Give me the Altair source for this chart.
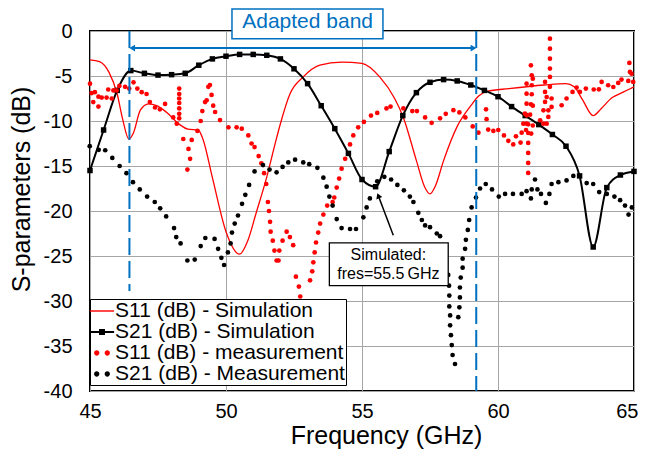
import altair as alt
import pandas as pd

FONT = "Liberation Sans"
BLUE = "#0070C0"

# ---------------- data ----------------
s21_sim_f = [45.0, 45.5, 46.0, 46.5, 47.0, 47.5, 48.0, 48.5, 49.0, 49.5, 50.0, 50.5, 51.0, 51.5,
             52.0, 52.5, 53.0, 53.5, 54.0, 54.5, 55.0, 55.5, 56.0, 56.5, 57.0, 57.5, 58.0, 58.5,
             59.0, 59.5, 60.0, 60.5, 61.0, 61.5, 62.0, 62.5, 63.0, 63.5, 64.0, 64.5, 65.0]
s21_sim_db = [-15.5, -11.0, -6.6, -4.4, -4.7, -4.9, -4.85, -4.7, -3.8, -3.1, -2.8, -2.6, -2.6, -2.7,
              -3.1, -4.2, -5.85, -8.3, -10.85, -13.6, -16.5, -17.3, -13.4, -9.4, -6.85, -5.7, -5.4, -5.55,
              -6.0, -6.6, -7.3, -8.4, -9.4, -10.4, -11.5, -12.8, -16.1, -24.0, -17.4, -16.0, -15.6]

s11_sim_f = [45.0, 45.35, 45.7, 46.0, 46.2, 46.43, 46.6, 46.85, 47.15, 47.45, 47.8, 48.3, 48.6, 48.98,
             49.15, 49.5, 50.0, 50.5, 50.8, 51.1, 51.5, 51.8, 52.0, 52.35, 52.84, 53.45, 54.25, 55.0,
             55.65, 56.2, 56.52, 57.0, 57.3, 57.5, 57.7, 58.0, 58.5, 59.0, 59.3, 59.6, 60.4, 61.7,
             62.5, 62.8, 63.1, 63.5, 63.8, 64.2, 64.6, 65.0]
s11_sim_db = [-3.2, -3.4, -4.6, -7.0, -9.8, -12.0, -11.3, -8.8, -8.1, -8.3, -9.0, -10.4, -10.9, -11.0,
              -12.0, -16.3, -22.3, -24.8, -23.3, -20.3, -16.2, -12.6, -10.3, -7.0, -5.1, -3.8, -3.45, -3.6,
              -5.1, -7.5, -9.6, -14.4, -17.3, -18.1, -17.2, -14.4, -10.6, -8.3, -7.2, -6.7, -6.4, -6.0,
              -5.85, -6.2, -7.6, -9.4, -8.6, -7.4, -6.8, -6.2]

s11_meas_f = [45.0, 45.06, 45.12, 45.18, 45.31, 45.31, 45.43, 45.61, 45.67, 45.8, 45.86, 45.98, 46.08,
              46.29, 46.44, 46.6, 46.74, 46.9, 47.08, 47.2, 47.39, 47.57, 47.76, 48.06, 48.19,
              48.28, 48.28, 48.28, 48.28, 48.28, 48.28, 48.28,
              48.43, 48.58, 48.62, 48.68, 48.74, 48.95, 49.07, 49.13, 49.23, 49.29, 49.35, 49.41, 49.47,
              49.53, 49.6, 49.78, 50.09, 50.39, 50.58, 50.82, 50.94, 51.05, 51.2, 51.3, 51.4, 51.48,
              51.54, 51.58, 51.62, 51.64, 51.72, 51.78, 51.86, 51.93, 51.96, 52.08, 52.23, 52.35, 52.47,
              52.57, 52.68, 52.73, 53.09, 53.17, 53.21, 53.26, 53.31, 53.39, 53.46, 53.58, 53.72, 53.92,
              53.98, 54.07, 54.16, 54.25, 54.38, 54.56, 54.68, 54.86, 55.07, 55.33, 55.56, 55.9, 56.05,
              56.52, 56.85, 57.02, 57.32, 57.56, 57.87, 58.08, 58.36, 58.58, 58.8, 59.07, 59.28, 59.56,
              59.58, 59.64, 59.83, 60.01, 60.22, 60.38, 60.56, 60.66, 60.83, 60.87, 61.03, 61.05,
              61.21, 61.24, 61.05, 61.24, 61.05, 61.24, 61.05, 61.21, 60.99, 61.18, 61.05, 60.93, 61.11,
              61.11, 61.11, 61.11, 61.11, 61.11, 61.28, 61.28, 61.28, 61.22,
              61.55, 61.67, 61.67, 61.73, 61.73, 61.73, 61.79, 61.79, 61.85, 61.85,
              61.91, 61.91, 61.91, 61.91, 61.91, 61.91, 61.97, 61.97,
              62.34, 62.52, 62.74, 62.89, 63.01, 63.23, 63.52, 63.71, 63.81, 64.05, 64.24, 64.42, 64.54,
              64.79, 64.83, 64.85, 64.91, 64.97]
s11_meas_db = [-5.85, -6.9, -7.9, -6.8, -7.3, -8.4, -7.4, -7.4, -6.5, -7.5, -6.6, -6.6, -6.1,
               -6.2, -6.4, -5.7, -6.4, -6.8, -7.0, -7.9, -8.5, -8.7, -8.1, -9.6, -10.3,
               -6.4, -7.0, -7.5, -8.0, -8.6, -9.2, -9.7,
               -12.0, -15.4, -13.1, -14.2, -12.1, -11.1, -10.0, -8.9, -7.9, -7.7, -6.2, -6.0, -7.1,
               -8.3, -9.0, -9.9, -10.7, -10.7, -10.85, -11.6, -12.5, -12.9, -13.9, -14.7, -15.8, -17.0,
               -19.0, -20.0, -21.2, -22.3, -23.3, -24.4, -25.5, -25.5, -24.4, -23.3, -22.3, -22.9, -23.8,
               -27.3, -28.4, -29.5, -27.7, -26.7, -25.7, -24.6, -23.5, -22.4, -21.4, -20.4, -19.4, -19.0,
               -18.5, -17.4, -16.4, -15.3, -14.2, -12.6, -11.6, -10.7, -10.1, -9.4, -9.1, -8.6, -8.4,
               -8.6, -8.9, -8.9, -9.6, -10.2, -9.7, -9.2, -8.8, -9.05, -9.6, -10.6, -11.3, -8.7,
               -9.8, -10.95, -11.1, -11.0, -11.6, -12.2, -12.6, -11.7, -12.4, -11.3, -11.0, -10.3,
               -3.81, -4.92, -5.85, -6.03, -6.96, -7.03, -8.07, -8.14, -9.18, -9.3, -9.37, -10.3, -10.37,
               -11.33, -12.44, -13.55, -14.66, -15.77, -5.3, -8.3, -10.5, -11.4,
               -9.92, -8.81, -10.3, -5.66, -6.77, -7.88, -7.33, -10.3, -8.81, -9.55,
               -0.85, -1.96, -3.07, -4.18, -5.1, -6.2, -8.44, -7.5,
               -8.25, -7.5, -6.77, -6.29, -6.77, -6.4, -6.5, -6.48, -5.66, -6.03, -6.22, -5.77, -5.4,
               -5.55, -3.55, -4.55, -4.74, -5.66]

s21_meas_f = [44.99, 45.32, 45.56, 45.82, 46.09, 46.34, 46.58, 46.83, 47.1, 47.38, 47.58, 47.8, 48.09,
              48.17, 48.33, 48.58, 48.85, 49.07, 49.24, 49.58, 49.71, 49.83, 49.93, 50.07, 50.17, 50.22,
              50.32, 50.44, 50.59, 50.71, 50.85, 51.05, 51.36, 51.6, 51.86, 52.08, 52.29, 52.54, 52.84,
              53.06, 53.36, 53.58, 53.7, 53.8, 53.92, 54.07, 54.25, 54.56, 54.78, 55.05, 55.17, 55.29,
              55.56, 55.82, 56.07, 56.3, 56.54, 56.76, 56.89, 57.07, 57.2, 57.32, 57.5, 57.75, 57.87,
              58.17, 58.2, 58.21, 58.21, 58.24, 58.24, 58.27, 58.3, 58.33, 58.42, 58.54, 58.58, 58.6,
              58.6, 58.63, 58.7, 58.7, 58.79, 58.82, 58.89, 58.94, 59.03, 59.19, 59.34, 59.55, 59.78,
              60.03, 60.26, 60.55, 60.87, 61.05, 61.21, 61.24, 61.36, 61.45, 61.58, 61.76, 61.89, 61.97,
              62.22, 62.52, 62.77, 63.26, 63.5, 63.72, 64.0, 64.28, 64.49, 64.67, 64.8, 64.92]
s21_meas_db = [-12.8, -13.2, -13.25, -14.1, -15.0, -15.8, -16.8, -17.6, -18.4, -19.0, -19.7, -20.6, -21.9,
               -22.9, -23.6, -25.5, -25.4, -23.9, -23.0, -23.1, -24.2, -25.2, -26.0, -24.6, -23.6, -22.4,
               -21.4, -20.5, -19.2, -18.2, -17.1, -15.6, -14.9, -15.4, -15.7, -15.1, -14.6, -14.3, -14.6,
               -14.8, -15.2, -16.3, -17.3, -18.4, -19.4, -20.9, -21.9, -22.0, -22.0, -20.7, -19.6, -18.6,
               -16.7, -16.2, -16.5, -17.1, -17.7, -18.4, -19.0, -20.2, -21.0, -21.6, -21.8, -22.5, -22.8,
               -27.1, -28.3, -29.4, -30.6, -31.6, -32.7, -33.8, -34.9, -36.0, -37.0, -31.8, -30.7, -29.6,
               -28.5, -27.4, -26.3, -25.3, -24.2, -23.2, -22.1, -21.0, -19.6, -18.5, -17.5, -17.0, -17.6,
               -18.4, -18.1, -18.1, -18.1, -17.8, -18.6, -17.6, -16.5, -17.6, -18.1, -19.1, -18.1, -17.0,
               -16.8, -16.6, -16.1, -16.9, -17.0, -17.9, -18.1, -18.4, -18.8, -19.4, -20.4, -19.6]

series_names = ["S11 (dB) - Simulation", "S21 (dB) - Simulation",
                "S11 (dB) - measurement", "S21 (dB) - Measurement"]
series_colors = ["#FF0000", "#000000", "#FF0000", "#000000"]

# annotation anchors (data units)
band_edges_f = [46.45, 59.2]
band_edges_bottom = [-28.9, -40.0]
band_arrow_f = [46.55, 59.1]
band_arrow_db = -1.9
band_box_f = [50.22, 55.77]
band_box_db = [2.45, -0.87]
band_label = "Adapted band"
band_label_pos = (53.0, 1.0)
sim_box_f = [53.8, 58.17]
sim_box_db = [-23.55, -28.3]
sim_text = ["Simulated:", "fres=55.5\u2009GHz"]
sim_text_f = [55.97, 55.97]
sim_text_db = [-24.85, -27.0]
sim_arrow_f = [56.15, 55.6]
sim_arrow_db = [-22.7, -18.3]

# ---------------- chart ----------------
xs = alt.Scale(domain=[45, 65], nice=False, zero=False)
ys = alt.Scale(domain=[-40, 0], nice=False, zero=False)
x_axis = alt.Axis(values=[45, 50, 55, 60, 65], labelPadding=10, titlePadding=2, titleX=296,
                  labelAlign=alt.condition("datum.value == 65", alt.value("right"), alt.value("center")),
                  labelOffset=alt.condition("datum.value == 65", alt.value(4), alt.value(0)))
y_axis = alt.Axis(values=list(range(-40, 1, 5)), labelPadding=18, titlePadding=9, titleY=158,
                  labelExpr="'' + datum.value")
XT = "Frequency (GHz)"
YT = "S-parameters (dB)"


def X(field):
    return alt.X(field, type="quantitative", scale=xs, axis=x_axis, title=XT)


def Y(field):
    return alt.Y(field, type="quantitative", scale=ys, axis=y_axis, title=YT)


df_s21_sim = pd.DataFrame({"f": s21_sim_f, "db": s21_sim_db})
df_s11_sim = pd.DataFrame({"f": s11_sim_f, "db": s11_sim_db})
df_s11_meas = pd.DataFrame({"f": s11_meas_f, "db": s11_meas_db})
df_s21_meas = pd.DataFrame({"f": s21_meas_f, "db": s21_meas_db})

s11_sim = alt.Chart(df_s11_sim).mark_line(color="#FF0000", strokeWidth=1.3, interpolate="monotone").encode(
    x=X("f"), y=Y("db"))
s21_sim_line = alt.Chart(df_s21_sim).mark_line(color="#000000", strokeWidth=2, interpolate="monotone").encode(
    x=X("f"), y=Y("db"))
s21_sim_pts = alt.Chart(df_s21_sim).mark_square(color="#000000", size=30, opacity=1).encode(
    x=X("f"), y=Y("db"))
s11_meas = alt.Chart(df_s11_meas).mark_circle(color="#FF0000", size=22, opacity=1).encode(
    x=X("f"), y=Y("db"))
s21_meas = alt.Chart(df_s21_meas).mark_circle(color="#000000", size=22, opacity=1).encode(
    x=X("f"), y=Y("db"))

df_edges = pd.DataFrame({"f": band_edges_f, "top": [0.0, 0.0], "bottom": band_edges_bottom})
edges = alt.Chart(df_edges).mark_rule(color=BLUE, strokeWidth=2, strokeDash=[17, 6]).encode(
    x=X("f"), y=Y("top"), y2="bottom")

df_barrow = pd.DataFrame({"f": [band_arrow_f[0]], "f2": [band_arrow_f[1]], "db": [band_arrow_db]})
barrow = alt.Chart(df_barrow).mark_rule(color=BLUE, strokeWidth=2).encode(x=X("f"), x2="f2", y=Y("db"))
df_head_l = pd.DataFrame({"f": [band_arrow_f[0]], "db": [band_arrow_db]})
df_head_r = pd.DataFrame({"f": [band_arrow_f[1]], "db": [band_arrow_db]})
head_l = alt.Chart(df_head_l).mark_point(shape="triangle-left", filled=True, color=BLUE, size=45,
                                         opacity=1).encode(x=X("f"), y=Y("db"))
head_r = alt.Chart(df_head_r).mark_point(shape="triangle-right", filled=True, color=BLUE, size=45,
                                         opacity=1).encode(x=X("f"), y=Y("db"))

df_bbox = pd.DataFrame({"f": [band_box_f[0]], "f2": [band_box_f[1]],
                        "db": [band_box_db[0]], "db2": [band_box_db[1]]})
bbox = alt.Chart(df_bbox).mark_rect(fill="white", stroke=BLUE, strokeWidth=1.5).encode(
    x=X("f"), x2="f2", y=Y("db"), y2="db2")
df_blabel = pd.DataFrame({"f": [band_label_pos[0]], "db": [band_label_pos[1]], "t": [band_label]})
blabel = alt.Chart(df_blabel).mark_text(font=FONT, fontSize=21, color=BLUE).encode(
    x=X("f"), y=Y("db"), text="t:N")

df_sbox = pd.DataFrame({"f": [sim_box_f[0]], "f2": [sim_box_f[1]],
                        "db": [sim_box_db[0]], "db2": [sim_box_db[1]]})
sbox = alt.Chart(df_sbox).mark_rect(fill="white", stroke="black", strokeWidth=1.3).encode(
    x=X("f"), x2="f2", y=Y("db"), y2="db2")
df_stext = pd.DataFrame({"f": sim_text_f, "db": sim_text_db, "t": sim_text})
stext = alt.Chart(df_stext).mark_text(font=FONT, fontSize=16, color="black").encode(
    x=X("f"), y=Y("db"), text="t:N")
df_sarrow = pd.DataFrame({"f": [sim_arrow_f[0]], "f2": [sim_arrow_f[1]],
                          "db": [sim_arrow_db[0]], "db2": [sim_arrow_db[1]]})
sarrow = alt.Chart(df_sarrow).mark_rule(color="black", strokeWidth=1.5).encode(
    x=X("f"), x2="f2", y=Y("db"), y2="db2")
df_shead = pd.DataFrame({"f": [sim_arrow_f[1]], "db": [sim_arrow_db[1]]})
shead = alt.Chart(df_shead).mark_point(shape="triangle-up", angle=339, filled=True, color="black",
                                       size=40, opacity=1).encode(x=X("f"), y=Y("db"))

# legend carrier (no marks drawn, only the legend)
legend_shapes = [
    "M-1.1,-0.065L1.1,-0.065L1.1,0.065L-1.1,0.065Z",
    "M-1.1,-0.09L1.1,-0.09L1.1,0.09L-1.1,0.09ZM-0.27,-0.27L0.27,-0.27L0.27,0.27L-0.27,0.27Z",
    "M-0.72,0A0.24,0.24,0,1,0,-0.24,0A0.24,0.24,0,1,0,-0.72,0ZM0.24,0A0.24,0.24,0,1,0,0.72,0A0.24,0.24,0,1,0,0.24,0Z",
    "M-0.72,0A0.24,0.24,0,1,0,-0.24,0A0.24,0.24,0,1,0,-0.72,0ZM0.24,0A0.24,0.24,0,1,0,0.72,0A0.24,0.24,0,1,0,0.24,0Z",
]
leg = alt.Legend(orient="none", legendX=0, legendY=268, title=None, fillColor="white",
                 strokeColor="black", padding=1, symbolSize=484, symbolStrokeWidth=0,
                 labelFontSize=21, labelFont=FONT, labelColor="black", labelOffset=2,
                 rowPadding=0, labelLimit=0)
df_leg = pd.DataFrame({"series": series_names})
legend_layer = alt.Chart(df_leg).mark_point(filled=True, opacity=1).encode(
    color=alt.Color("series:N", scale=alt.Scale(domain=series_names, range=series_colors), legend=leg),
    shape=alt.Shape("series:N", scale=alt.Scale(domain=series_names, range=legend_shapes), legend=leg),
).transform_filter("false")

chart = alt.layer(
    s11_sim, s21_sim_line, s21_sim_pts, s11_meas, s21_meas,
    edges, barrow, head_l, head_r, bbox, blabel, sbox, stext, sarrow, shead, legend_layer
).properties(
    width=544, height=360, autosize="none",
    padding={"left": 82, "top": 23, "right": 4, "bottom": 62},
    background="white",
).configure_view(stroke="black", strokeWidth=2).configure_axis(
    labelFont=FONT, labelFontSize=20, labelColor="black",
    titleFont=FONT, titleFontSize=25, titleColor="black", titleFontWeight="normal",
    grid=True, gridColor="#A6A6A6", gridWidth=1, ticks=False, domain=False,
)

chart.save("out.html", embed_options={"renderer": "svg", "actions": False})
